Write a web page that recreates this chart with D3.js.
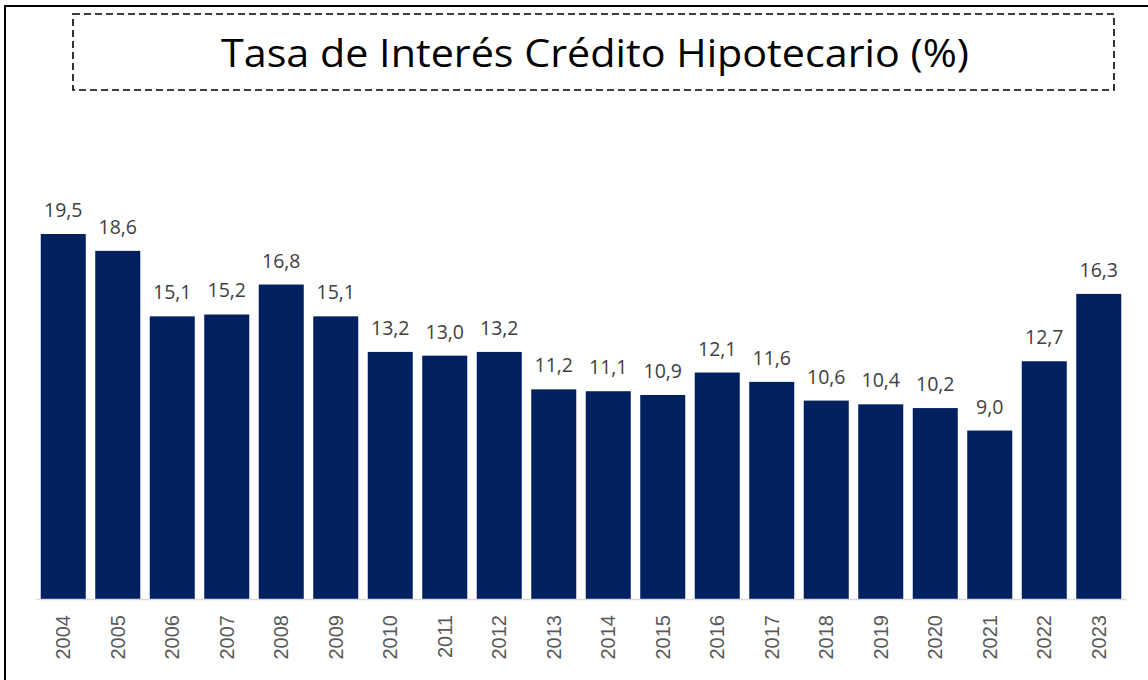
<!DOCTYPE html>
<html>
<head>
<meta charset="utf-8">
<script src="https://cdn.jsdelivr.net/npm/d3@7"></script>
<style>
  html, body { margin: 0; padding: 0; background: #fff; }
  svg { display: block; }
</style>
</head>
<body>
<svg id="chart" width="1148" height="680"></svg>
<script>
const years = ['2004', '2005', '2006', '2007', '2008', '2009', '2010', '2011', '2012', '2013',
  '2014', '2015', '2016', '2017', '2018', '2019', '2020', '2021', '2022', '2023']
const rates = [19.5, 18.6, 15.1, 15.2, 16.8, 15.1, 13.2, 13.0, 13.2, 11.2,
  11.1, 10.9, 12.1, 11.6, 10.6, 10.4, 10.2, 9.0, 12.7, 16.3]
const title = 'Tasa de Interés Crédito Hipotecario (%)'

const svg = d3.select('#chart')
const W = 1148, H = 680
const margins = {left: 36, right: 22, top: 234, bottom: 81}

// outer frame (only top and left edges are visible in the crop)
svg.append('path')
  .attr('d', `M5,${H} L5,6 L${W},6`)
  .attr('fill', 'none')
  .attr('stroke', '#000')
  .attr('stroke-width', 2)

// dashed title box
svg.append('rect')
  .attr('x', 73).attr('y', 14)
  .attr('width', 1041).attr('height', 76)
  .attr('fill', 'none')
  .attr('stroke', '#000')
  .attr('stroke-width', 1.6)
  .attr('stroke-dasharray', '7,4')

svg.append('text')
  .attr('x', 595).attr('y', 67)
  .attr('text-anchor', 'middle')
  .attr('font-family', '"Open Sans", sans-serif')
  .attr('font-size', 38)
  .attr('textLength', 748)
  .attr('lengthAdjust', 'spacingAndGlyphs')
  .attr('fill', '#000')
  .text(title)

const baseY = H - margins.bottom
const x = d3.scaleBand()
  .domain(years)
  .range([margins.left, W - margins.right])
  .paddingInner(0.174)
  .paddingOuter(0.087)

const y = d3.scaleLinear()
  .domain([0, 19.5])
  .range([baseY, margins.top])

const data = years.map((yr, i) => ({year: yr, value: rates[i]}))

svg.append('g')
  .selectAll('.bar')
  .data(data)
  .enter()
  .append('rect')
  .attr('class', 'bar')
  .attr('x', (d) => x(d.year))
  .attr('y', (d) => y(d.value))
  .attr('width', x.bandwidth())
  .attr('height', (d) => baseY - y(d.value))
  .attr('fill', '#002060')

const fmt = (v) => d3.format('.1f')(v).replace('.', ',')

svg.append('g')
  .selectAll('.val')
  .data(data)
  .enter()
  .append('text')
  .attr('class', 'val')
  .attr('x', (d) => x(d.year) + x.bandwidth() / 2)
  .attr('y', (d) => y(d.value) - 17)
  .attr('text-anchor', 'middle')
  .attr('font-family', '"Open Sans", sans-serif')
  .attr('font-size', 19.5)
  .attr('fill', '#404040')
  .text((d) => fmt(d.value))

const xAxis = svg.append('g')
  .attr('class', 'axis axis--x')
  .attr('transform', `translate(0, ${baseY})`)
  .call(d3.axisBottom(x).tickSize(0).tickSizeOuter(0))

xAxis.select('.domain')
  .attr('stroke', '#d9d9d9')
  .attr('stroke-width', 1.5)

xAxis.selectAll('text')
  .attr('font-family', '"Liberation Sans", Arial, sans-serif')
  .attr('font-size', 20)
  .attr('fill', '#595959')
  .attr('text-anchor', 'end')
  .attr('transform', 'rotate(-90)')
  .attr('x', -16)
  .attr('y', 0)
  .attr('dy', '0.35em')
</script>
</body>
</html>
